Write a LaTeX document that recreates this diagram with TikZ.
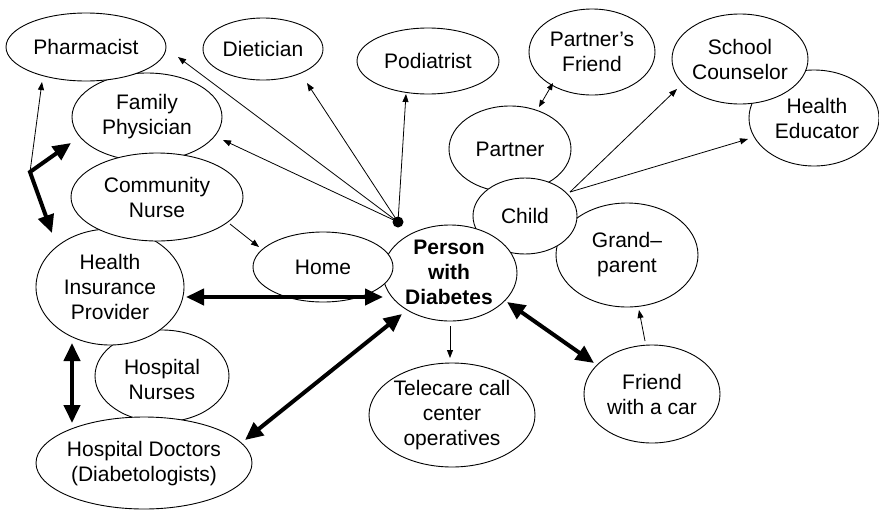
\documentclass[tikz,border=0pt]{standalone}
\usepackage{fontspec}
\setmainfont{Liberation Sans}
\usetikzlibrary{shapes.geometric,arrows.meta,calc}
\begin{document}
\begin{tikzpicture}[x=1pt,y=-1pt,
  bubble/.style={ellipse,draw,fill=white,line width=0.9pt,inner sep=0pt},
  lbl/.style={align=center,font=\fontsize{21}{25}\selectfont,inner sep=0pt},
  smallarrow/.style={line width=0.8pt,-{Triangle[length=8pt,width=6pt]}},
  smallboth/.style={line width=0.8pt,{Triangle[length=7pt,width=5.5pt]}-{Triangle[length=7pt,width=5.5pt]}},
  bigboth/.style={line width=4pt,line join=miter,{Triangle[length=18pt,width=16pt]}-{Triangle[length=18pt,width=16pt]}},
]
\useasboundingbox (0,0) rectangle (879,512);
% ellipses, back to front
\node[bubble,minimum width=150pt,minimum height=88pt] (fam) at (147,117) {};
\node[bubble,minimum width=160pt,minimum height=68pt] (pharm) at (86,47) {};
\node[bubble,minimum width=134pt,minimum height=92pt] (hn) at (162,376) {};
\node[bubble,minimum width=148pt,minimum height=116pt] (hip) at (110,287) {};
\node[bubble,minimum width=172pt,minimum height=88pt] (cn) at (157,197) {};
\node[bubble,minimum width=216pt,minimum height=92pt] (hd) at (144,463) {};
\node[bubble,minimum width=120pt,minimum height=62pt] (diet) at (263,49) {};
\node[bubble,minimum width=142pt,minimum height=66pt] (podi) at (428,61) {};
\node[bubble,minimum width=122pt,minimum height=86pt] (partner) at (510,149) {};
\node[bubble,minimum width=126pt,minimum height=86pt] (pfriend) at (592,52) {};
\node[bubble,minimum width=142pt,minimum height=104pt] (grand) at (627,255) {};
\node[bubble,minimum width=104pt,minimum height=76pt] (child) at (525,216) {};
\node[bubble,minimum width=134pt,minimum height=96pt] (pers) at (450,273) {};
\node[bubble,minimum width=140pt,minimum height=70pt] (home) at (323,267) {};
\node[bubble,minimum width=166pt,minimum height=104pt] (tele) at (452,415) {};
\node[bubble,minimum width=136pt,minimum height=98pt] (friend) at (652,394) {};
\node[bubble,minimum width=130pt,minimum height=96pt] (hed) at (814,118) {};
\node[bubble,minimum width=136pt,minimum height=90pt] (school) at (740,59) {};
% labels
\node[lbl] at (pharm) {Pharmacist};
\node[lbl] at (diet) {Dietician};
\node[lbl] at (podi) {Podiatrist};
\node[lbl] at (fam) {Family\\Physician};
\node[lbl] at (cn) {Community\\Nurse};
\node[lbl] at (home) {Home};
\node[lbl,font=\fontsize{21}{25}\selectfont\bfseries] at ($(pers)+(-1,-1)$) {Person\\with\\Diabetes};
\node[lbl] at (hip) {Health\\Insurance\\Provider};
\node[lbl] at ($(hn)+(0,3)$) {Hospital\\Nurses};
\node[lbl] at ($(hd)+(0,1)$) {Hospital Doctors\\(Diabetologists)};
\node[lbl] at (tele) {Telecare call\\center\\operatives};
\node[lbl] at (friend) {Friend\\with a car};
\node[lbl] at (grand) {Grand–\\parent};
\node[lbl] at (child) {Child};
\node[lbl] at (partner) {Partner};
\node[lbl] at (pfriend) {Partner’s\\Friend};
\node[lbl] at (school) {School\\Counselor};
\node[lbl] at ($(hed)+(3,0)$) {Health\\Educator};
% hub dot and connectors
\node[circle,fill=black,inner sep=0pt,minimum size=11pt] (dot) at (398,222) {};
\coordinate (jn) at (30,172);
\draw[smallarrow] (dot.center) -- ($(pharm)+(92,10)$);
\draw[smallarrow] (dot.center) -- ($(diet)+(44,34)$);
\draw[smallarrow] (dot.center) -- ($(podi)+(-22,33)$);
\draw[smallarrow] (dot.center) -- ($(fam)+(76,23)$);
\draw[smallarrow] ($(cn)+(73,27)$) -- ($(home)+(-64,-20)$);
\draw[smallarrow] (jn) -- ($(pharm)+(-44,35)$);
\draw[bigboth] ($(fam)+(-76,26)$) -- (jn) -- ($(hip)+(-58,-54)$);
\draw[bigboth] ($(hip)+(76,10)$) -- ($(pers)+(-67,24)$);
\draw[bigboth] ($(hip)+(-38,56)$) -- ($(hd)+(-72,-40)$);
\draw[bigboth] ($(hd)+(101,-23)$) -- ($(pers)+(-48,41)$);
\draw[bigboth] ($(pers)+(57,29)$) -- ($(friend)+(-58,-31)$);
\draw[smallarrow] ($(pers)+(0,53)$) -- ($(tele)+(-2,-57)$);
\draw[smallarrow] ($(friend)+(-7,-53)$) -- ($(grand)+(12,55)$);
\draw[smallarrow] ($(child)+(45,-24)$) -- ($(school)+(-63,30)$);
\draw[smallarrow] ($(child)+(45,-24)$) -- ($(hed)+(-66,21)$);
\draw[smallboth] ($(partner)+(29,-42)$) -- ($(pfriend)+(-39,31)$);
\end{tikzpicture}
\end{document}
